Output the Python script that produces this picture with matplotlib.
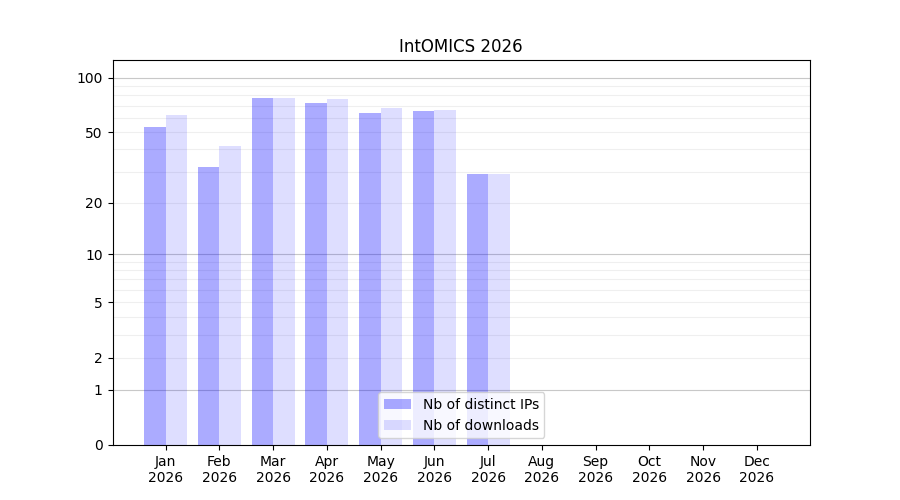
import numpy as np
import matplotlib
matplotlib.use("Agg")
import matplotlib.pyplot as plt

months = ["Jan", "Feb", "Mar", "Apr", "May", "Jun", "Jul", "Aug", "Sep", "Oct", "Nov", "Dec"]
year = "2026"
distinct_ips = [53, 32, 77, 72, 64, 65, 29, 0, 0, 0, 0, 0]
downloads = [62, 42, 77, 76, 68, 66, 29, 0, 0, 0, 0, 0]
ytick_values = [0, 1, 2, 5, 10, 20, 50, 100]
major_grid = [1, 10, 100]
minor_grid = [2, 3, 4, 5, 6, 7, 8, 9, 20, 30, 40, 50, 60, 70, 80, 90]

fig, ax = plt.subplots(figsize=(9, 5), dpi=100)
ax.set_yscale("function", functions=(lambda v: np.log10(1 + np.clip(v, 0, None)),
                                     lambda v: 10 ** v - 1))
x = np.arange(len(months))
ax.bar(x - 0.2, distinct_ips, width=0.4, color="blue", alpha=0.33, label="Nb of distinct IPs", zorder=2)
ax.bar(x + 0.2, downloads, width=0.4, color="blue", alpha=0.13, label="Nb of downloads", zorder=2)
for g in minor_grid:
    ax.axhline(g, color="#efefef", lw=0.8, zorder=1)
for g in major_grid:
    ax.axhline(g, color="#c8c8c8", lw=0.8, zorder=1)
ax.set_ylim(0, 125)
ax.set_yticks(ytick_values)
ax.set_yticklabels([str(v) for v in ytick_values])
ax.minorticks_off()
ax.set_xticks(x)
ax.set_xticklabels([f"{m}\n{year}" for m in months])
ax.set_title("IntOMICS 2026")
ax.legend(loc="lower center")
fig.savefig("out.png")
